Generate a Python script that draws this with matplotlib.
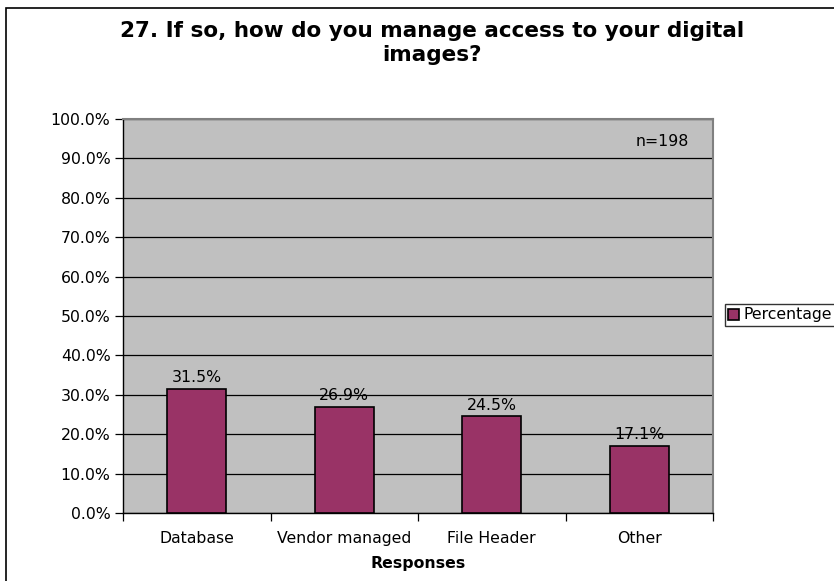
import matplotlib.pyplot as plt
import matplotlib.patches as mpatches
from matplotlib.ticker import FixedLocator, PercentFormatter

categories = ["Database", "Vendor managed", "File Header", "Other"]
percentages = [31.5, 26.9, 24.5, 17.1]
value_labels = ["31.5%", "26.9%", "24.5%", "17.1%"]
y_ticks = [0, 10, 20, 30, 40, 50, 60, 70, 80, 90, 100]

W, H = 834, 581
fig = plt.figure(figsize=(W / 100, H / 100), dpi=100)
plt.rcParams["font.family"] = "DejaVu Sans"
FS = 11.3

# outer chart frame (runs off the right and bottom edges)
fig.patches.append(mpatches.Rectangle((6 / W, -0.05), 1.1, 1 - 8 / H + 0.05,
                                      transform=fig.transFigure, fill=False,
                                      edgecolor="black", linewidth=1.2))

left, right, top, bottom = 123, 713, 119, 513
ax = fig.add_axes([left / W, 1 - bottom / H, (right - left) / W, (bottom - top) / H])
ax.set_facecolor("#C0C0C0")

x = list(range(len(categories)))
bars = ax.bar(x, percentages, width=0.4, color="#993366", edgecolor="black",
              linewidth=1.2, zorder=3, label="Percentage")
for xi, v, lab in zip(x, percentages, value_labels):
    ax.text(xi, v + 0.9, lab, ha="center", va="bottom", fontsize=FS, zorder=4)

ax.set_xlim(-0.5, len(categories) - 0.5)
ax.set_ylim(0, 100)
ax.set_yticks(y_ticks)
ax.yaxis.set_major_formatter(PercentFormatter(decimals=1))
ax.yaxis.grid(True, color="black", linewidth=0.9, zorder=1)
ax.set_axisbelow(True)

ax.set_xticks(x)
ax.set_xticklabels(categories, fontsize=FS)
ax.xaxis.set_minor_locator(FixedLocator([i - 0.5 for i in range(len(categories) + 1)]))
ax.tick_params(axis="x", which="major", length=0, pad=13)
ax.tick_params(axis="x", which="minor", length=6, width=0.9, direction="out")
ax.tick_params(axis="y", length=6, width=0.9, direction="out", labelsize=FS, pad=3)

for side in ("left", "bottom"):
    ax.spines[side].set_color("black")
    ax.spines[side].set_linewidth(1.0)
for side in ("top", "right"):
    ax.spines[side].set_color("#808080")
    ax.spines[side].set_linewidth(1.5)

ax.set_xlabel("Responses", fontsize=FS, fontweight="bold", labelpad=7)
ax.text(0.959, 0.944, "n=198", transform=ax.transAxes, ha="right", va="center",
        fontsize=FS)

fig.text(432 / W, 1 - 43 / H,
         "27. If so, how do you manage access to your digital\nimages?",
         ha="center", va="center", fontsize=15.5, fontweight="bold", linespacing=1.3)

leg = ax.legend(loc="center left", bbox_to_anchor=(725 / W, 1 - 315 / H),
                bbox_transform=fig.transFigure, frameon=True, fancybox=False,
                edgecolor="black", fontsize=FS, handlelength=0.7, handleheight=0.7,
                handletextpad=0.3, borderpad=0.2, borderaxespad=0)
leg.get_frame().set_linewidth(1.0)

fig.savefig("out.png", dpi=100)
